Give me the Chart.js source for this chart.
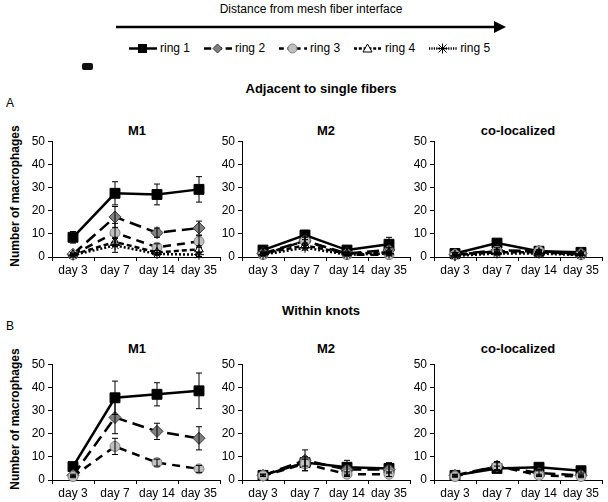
<!DOCTYPE html>
<html>
<head>
<meta charset="utf-8">
<script src="https://cdn.jsdelivr.net/npm/chart.js@4.4.1/dist/chart.umd.min.js"></script>
<style>
  body { margin: 0; background: #fff; font-family: "Liberation Sans", Arial, sans-serif; color: #000; }
  #page { position: relative; width: 608px; height: 502px; overflow: hidden; }
  .txt { position: absolute; transform: translate(-50%, -50%); white-space: nowrap; color: #000; }
  .bold { font-weight: bold; }
  .cv { position: absolute; }
  .ylab { position: absolute; transform: translate(-50%, -50%) rotate(-90deg); font-weight: bold; font-size: 12px; white-space: nowrap; color: #000; }
  #legend { position: absolute; left: 129px; top: 40px; height: 16px; font-size: 12px; display: flex; align-items: center; color: #000; }
  #legend .item { display: flex; align-items: center; margin-right: 14px; }
  #legend span { color: #000; }
  #legend svg { margin-right: 3px; }
</style>
</head>
<body>
<div id="page">
  <div class="txt" style="left:311px;top:9px;font-size:12px;">Distance from mesh fiber interface</div>
  <svg style="position:absolute;left:0;top:0" width="608" height="40">
    <line x1="116" y1="27" x2="496" y2="27" stroke="#000" stroke-width="2.5"/>
    <polygon points="494,21 506,27 494,33" fill="#000"/>
  </svg>
  <div id="legend"></div>
  <div style="position:absolute;left:82px;top:63px;width:11px;height:7px;background:#111;border-radius:2px;"></div>

  <div class="txt bold" style="left:321px;top:88px;font-size:13px;">Adjacent to single fibers</div>
  <div class="txt" style="left:10px;top:103px;font-size:12px;">A</div>
  <div class="txt bold" style="left:137px;top:130px;font-size:13px;">M1</div>
  <div class="txt bold" style="left:326px;top:130px;font-size:13px;">M2</div>
  <div class="txt bold" style="left:518px;top:130px;font-size:13px;">co-localized</div>
  <div class="ylab" style="left:15px;top:196px;">Number of macrophages</div>

  <div class="txt bold" style="left:321px;top:310px;font-size:13px;">Within knots</div>
  <div class="txt" style="left:10px;top:326px;font-size:12px;">B</div>
  <div class="txt bold" style="left:137px;top:348px;font-size:13px;">M1</div>
  <div class="txt bold" style="left:326px;top:348px;font-size:13px;">M2</div>
  <div class="txt bold" style="left:518px;top:348px;font-size:13px;">co-localized</div>
  <div class="ylab" style="left:15px;top:419px;">Number of macrophages</div>
</div>
<script>
const days = ["day 3", "day 7", "day 14", "day 35"];
const rings = ["ring 1", "ring 2", "ring 3", "ring 4", "ring 5"];
const yTicks = [0, 10, 20, 30, 40, 50];

// Adjacent to single fibers (A): one row per ring
const adjM1 = [[8.5, 27.5, 27, 29.2], [1.2, 17.3, 10.5, 12.5], [1, 10.5, 4.2, 6.7], [1, 6.5, 2, 3.3], [0.8, 5, 1.3, 1]];
const adjM1Err = [[2.5, 5, 4.5, 5.5], [0.5, 4.5, 2, 3], [0.5, 4, 1.5, 2.5], [0.5, 2, 0.8, 1.5], [0.3, 3, 0.5, 0.8]];
const adjM2 = [[3, 9.5, 3, 5.5], [1.5, 7, 1.5, 3], [1, 7, 1, 1], [1.5, 5, 1.5, 2], [1, 4, 1, 1.5]];
const adjM2Err = [[0.8, 2, 0.8, 3], [0.5, 1.5, 0.5, 1], [0.3, 2, 0.3, 0.5], [0.3, 1, 0.3, 0.5], [0.3, 1, 0.3, 0.5]];
const adjCo = [[1.5, 6, 2.5, 2], [1, 3, 2.5, 1.5], [1, 2.5, 2.5, 1], [0.8, 2, 2, 1], [0.5, 1.5, 1.5, 0.8]];
const adjCoErr = [[0.5, 1, 0.5, 0.5], [0.3, 1, 0.5, 0.3], [0.3, 0.8, 0.5, 0.3], [0.3, 0.5, 0.5, 0.3], [0.2, 0.5, 0.5, 0.2]];

// Within knots (B): rings 1-3
const knotM1 = [[5.8, 35.5, 37, 38.5], [2, 27, 21, 18], [1.5, 14.5, 7.5, 4.8]];
const knotM1Err = [[1, 7.2, 5, 7.7], [0.5, 7, 3.5, 5], [0.5, 3.5, 1.5, 1.5]];
const knotM2 = [[2, 7.5, 5.5, 5], [2, 8.5, 4.5, 4.5], [1.8, 7, 2.5, 2.5]];
const knotM2Err = [[0.5, 1.5, 3, 2], [0.5, 4.5, 2.5, 3], [0.3, 3, 1, 1]];
const knotCo = [[2, 5, 5.5, 4], [2, 6, 3, 2], [1.5, 6, 2, 1.5]];
const knotCoErr = [[0.5, 1, 1, 1], [0.3, 2, 1, 0.5], [0.3, 1.5, 0.5, 0.5]];

const ringStyle = [
  { dash: [], pointStyle: "rect", radius: 7, bg: "#000", border: "#000" },
  { dash: [12, 6], pointStyle: "rectRot", radius: 6, bg: "#808080", border: "#3a3a3a" },
  { dash: [8, 6], pointStyle: "circle", radius: 5, bg: "#c0c0c0", border: "#808080" },
  { dash: [5, 3], pointStyle: "triangle", radius: 5, bg: "#fff", border: "#000" },
  { dash: [2, 2], pointStyle: "star", radius: 5, bg: "#fff", border: "#000" }
];

// legend
const legend = document.getElementById("legend");
rings.forEach((name, i) => {
  const s = ringStyle[i];
  const item = document.createElement("div");
  item.className = "item";
  let mark = "";
  if (s.pointStyle === "rect") mark = '<rect x="9" y="3" width="9" height="9" fill="#000"/>';
  if (s.pointStyle === "rectRot") mark = '<polygon points="13.5,3 18,7.5 13.5,12 9,7.5" fill="#808080" stroke="#3a3a3a"/>';
  if (s.pointStyle === "circle") mark = '<circle cx="13.5" cy="7.5" r="4.5" fill="#c0c0c0" stroke="#808080"/>';
  if (s.pointStyle === "triangle") mark = '<polygon points="13.5,3 18,11 9,11" fill="#fff" stroke="#000"/>';
  if (s.pointStyle === "star") mark = '<path d="M9.5,3.5 L17.5,11.5 M17.5,3.5 L9.5,11.5 M13.5,2.5 L13.5,12.5 M8.5,7.5 L18.5,7.5" stroke="#000"/>';
  item.innerHTML = '<svg width="28" height="15"><line x1="0" y1="7.5" x2="28" y2="7.5" stroke="#000" stroke-width="2.5" stroke-dasharray="' +
    (s.dash.length ? s.dash.map(d => d * 0.6).join(",") : "none") + '"/>' + mark + "</svg><span>" + name + "</span>";
  legend.appendChild(item);
});

const errorBars = {
  id: "errorBars",
  afterDatasetsDraw(chart) {
    const ctx = chart.ctx;
    const y = chart.scales.y;
    ctx.save();
    ctx.strokeStyle = "#000";
    ctx.lineWidth = 1;
    chart.data.datasets.forEach((ds, di) => {
      const meta = chart.getDatasetMeta(di);
      meta.data.forEach((pt, i) => {
        const e = ds.err[i];
        if (!e) return;
        const v = ds.data[i];
        const top = y.getPixelForValue(v + e);
        const bot = y.getPixelForValue(Math.max(0, v - e));
        ctx.beginPath();
        ctx.moveTo(pt.x, top); ctx.lineTo(pt.x, bot);
        ctx.moveTo(pt.x - 3, top); ctx.lineTo(pt.x + 3, top);
        ctx.moveTo(pt.x - 3, bot); ctx.lineTo(pt.x + 3, bot);
        ctx.stroke();
      });
    });
    ctx.restore();
  }
};

function makeChart(left, top, vals, errs) {
  const cv = document.createElement("canvas");
  cv.className = "cv";
  cv.width = 206; cv.height = 150;
  cv.style.left = (left - 30) + "px";
  cv.style.top = (top - 8) + "px";
  cv.style.width = "206px"; cv.style.height = "150px";
  document.getElementById("page").appendChild(cv);
  const datasets = vals.map((v, i) => {
    const s = ringStyle[i];
    return {
      label: rings[i],
      data: v,
      err: errs[i],
      borderColor: "#000",
      borderWidth: 2.5,
      borderDash: s.dash,
      pointStyle: s.pointStyle,
      pointRadius: s.radius,
      pointBackgroundColor: s.bg,
      pointBorderColor: s.border,
      pointBorderWidth: 1,
      clip: false
    };
  }).reverse();
  new Chart(cv, {
    type: "line",
    data: { labels: days, datasets: datasets },
    options: {
      responsive: false,
      animation: false,
      layout: { padding: { top: 8, right: 6, left: 0, bottom: 0 } },
      plugins: { legend: { display: false }, tooltip: { enabled: false } },
      scales: {
        x: {
          offset: true,
          afterFit: s => { s.height = 24; },
          grid: { offset: true, drawOnChartArea: false, tickLength: 4, color: "#000" },
          border: { color: "#000", width: 1 },
          ticks: { color: "#000", font: { family: "Liberation Sans", size: 12 }, padding: 2, maxRotation: 0 }
        },
        y: {
          min: 0, max: 50,
          afterFit: s => { s.width = 30; },
          afterBuildTicks: s => { s.ticks = yTicks.map(v => ({ value: v })); },
          grid: { drawOnChartArea: false, tickLength: 4, color: "#000" },
          border: { color: "#000", width: 1 },
          ticks: { color: "#000", font: { family: "Liberation Sans", size: 12 }, padding: 3 }
        }
      }
    },
    plugins: [errorBars]
  });
}

makeChart(52, 139, adjM1, adjM1Err);
makeChart(242, 139, adjM2, adjM2Err);
makeChart(434, 139, adjCo, adjCoErr);
makeChart(52, 362, knotM1, knotM1Err);
makeChart(242, 362, knotM2, knotM2Err);
makeChart(434, 362, knotCo, knotCoErr);
</script>
</body>
</html>
